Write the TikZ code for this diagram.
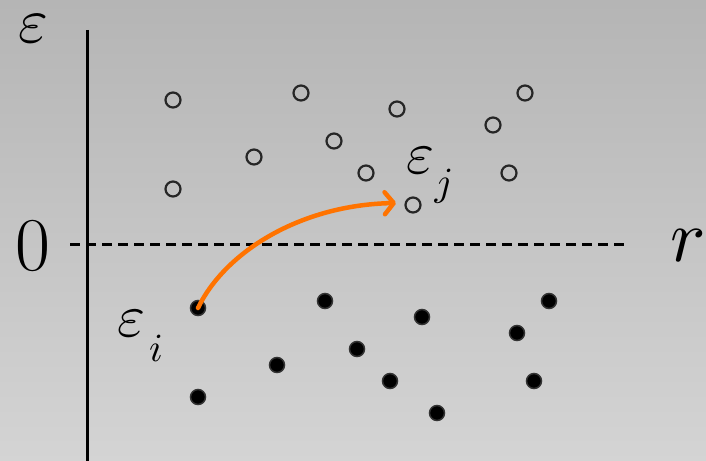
\documentclass[tikz,border=0pt]{standalone}
\usepackage{graphicx}
\usetikzlibrary{arrows.meta}
\begin{document}
\begin{tikzpicture}[x=1pt,y=-1pt,
  opendot/.style={circle,draw=black!85,line width=2.2pt,minimum size=15pt,inner sep=0pt},
  fulldot/.style={circle,fill=black,draw=black!80,line width=1.5pt,minimum size=15pt,inner sep=0pt},
  lbl/.style={inner sep=0pt,anchor=center}]
\useasboundingbox (0,0) rectangle (706,460);
\shade[shading angle=45, top color=black!33, bottom color=black!13] (-150,-150) rectangle (856,610);
\clip (0,0) rectangle (706,460);
% axes
\coordinate (vtop) at (87,30);
\coordinate (vbot) at (87,462);
\draw[line width=3pt] (vtop) -- (vbot);
\coordinate (hl) at (70,244);
\coordinate (hr) at (626,244);
\draw[line width=3pt,dash pattern=on 10pt off 6pt] (hl) -- (hr);
% labels
\node[lbl] (eps) at (33,29) {\scalebox{6.4}{$\varepsilon$}};
\node[lbl] (zero) at (33,246) {\fontsize{76}{76}\selectfont 0};
\node[lbl] (r) at (688,246) {\scalebox{7.4}{$r$}};
\node[lbl] (epsj) at (420,161) {\scalebox{6}{$\varepsilon$}};
\node[lbl] (j) at (444,186) {\scalebox{4}{$j$}};
\node[lbl] (epsi) at (131,324) {\scalebox{6}{$\varepsilon$}};
\node[lbl] (i) at (156,348) {\scalebox{4}{$i$}};
% open circles
\foreach \n/\x/\y in {o1/173/100,o2/301/93,o3/397/109,o4/525/93,o5/334/141,o6/493/125,o7/254/157,o8/366/173,o9/509/173,o10/173/189,o11/413/205}
  \node[opendot] (\n) at (\x,\y) {};
% filled dots
\foreach \n/\x/\y in {f1/198/308,f2/325/301,f3/422/317,f4/549/301,f5/357/349,f6/517/333,f7/277/365,f8/390/381,f9/534/381,f10/198/397,f11/437/413}
  \node[fulldot] (\n) at (\x,\y) {};
% arrow
\coordinate (tip) at (396,203);
\draw[line width=4.5pt,color=orange!90!red,line cap=round,-{Straight Barb[length=9pt,width=22pt,line cap=round,line join=round]}] (f1.center) .. controls (225,252) and (300,205) .. (tip);
\end{tikzpicture}
\end{document}
